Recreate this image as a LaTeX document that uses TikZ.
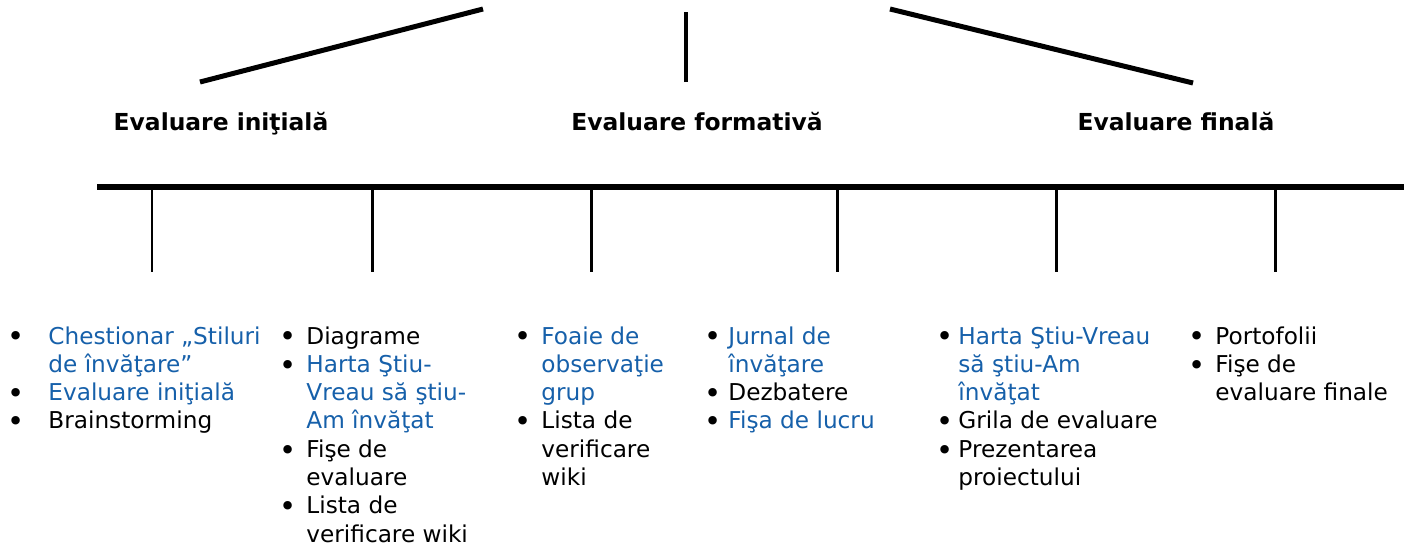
\documentclass[tikz,border=0pt]{standalone}
\usepackage{fontspec}
\setmainfont{DejaVu Sans}
\usetikzlibrary{positioning}

\definecolor{linkblue}{RGB}{22,96,170}
\newcommand{\bl}[1]{\makebox[#1][l]{\raisebox{-1.4pt}{\fontsize{14.5}{14}\selectfont\textbullet}}}
\newcommand{\lk}[1]{\textcolor{linkblue}{#1}}

\begin{document}
\begin{tikzpicture}[x=0.5pt,y=-0.5pt,
  bar/.style={line width=2.5pt},
  axis/.style={line width=3pt},
  tick/.style={line width=1.5pt},
  head/.style={font=\bfseries\fontsize{11.7}{14}\selectfont, inner sep=0pt, anchor=base},
  lst/.style={font=\fontsize{11.6}{14.15}\selectfont, inner sep=0pt, anchor=base west}]
\useasboundingbox (0,0) rectangle (1404,543);

% branches from the title
\coordinate (d1a) at (200,82);  \coordinate (d1b) at (483,9);
\coordinate (d2a) at (686,82);  \coordinate (d2b) at (686,12);
\coordinate (d3a) at (1193,83); \coordinate (d3b) at (890,9);
\draw[bar] (d1a) -- (d1b);
\draw[line width=2pt] (d2a) -- (d2b);
\draw[bar] (d3a) -- (d3b);

\path
(221,130)  node[head] (h1) {Evaluare iniţială}
(697,130)  node[head] (h2) {Evaluare formativă}
(1176,130) node[head] (h3) {Evaluare finală};

% time axis
\coordinate (a0) at (97,187);
\coordinate (a1) at (1404,187);
\draw[axis] (a0) -- (a1);
\coordinate (k0) at (152,189); \coordinate (k0e) at (152,272);
\draw[line width=0.8pt] (k0) -- (k0e);
\foreach \x [count=\i] in {372,591,837,1056,1275} {
  \coordinate (k\i) at (\x,189);
  \coordinate (k\i e) at (\x,272);
  \draw[tick] (k\i) -- (k\i e);
}

% lists
\node[lst] (c1) at (7,344) {\begin{tabular}[t]{@{}l@{}l@{}}
\bl{20.5pt} & \lk{Chestionar „Stiluri}\\
 & \lk{de învăţare”}\\
\bl{20.5pt} & \lk{Evaluare iniţială}\\
\bl{20.5pt} & Brainstorming
\end{tabular}};
\node[lst] (c2) at (279,344) {\begin{tabular}[t]{@{}l@{}l@{}}
\bl{13.5pt} & Diagrame\\
\bl{13.5pt} & \lk{Harta Ştiu-}\\
 & \lk{Vreau să ştiu-}\\
 & \lk{Am învăţat}\\
\bl{13.5pt} & Fişe de\\
 & evaluare\\
\bl{13.5pt} & Lista de\\
 & verificare wiki
\end{tabular}};
\node[lst] (c3) at (514,344) {\begin{tabular}[t]{@{}l@{}l@{}}
\bl{13.5pt} & \lk{Foaie de}\\
 & \lk{observaţie}\\
 & \lk{grup}\\
\bl{13.5pt} & Lista de\\
 & verificare\\
 & wiki
\end{tabular}};
\node[lst] (c4) at (704,344) {\begin{tabular}[t]{@{}l@{}l@{}}
\bl{12pt} & \lk{Jurnal de}\\
 & \lk{învăţare}\\
\bl{12pt} & Dezbatere\\
\bl{12pt} & \lk{Fişa de lucru}
\end{tabular}};
\node[lst] (c5) at (936,344) {\begin{tabular}[t]{@{}l@{}l@{}}
\bl{11pt} & \lk{Harta Ştiu-Vreau}\\
 & \lk{să ştiu-Am}\\
 & \lk{învăţat}\\
\bl{11pt} & Grila de evaluare\\
\bl{11pt} & Prezentarea\\
 & proiectului
\end{tabular}};
\node[lst] (c6) at (1188,344) {\begin{tabular}[t]{@{}l@{}l@{}}
\bl{13.5pt} & Portofolii\\
\bl{13.5pt} & Fişe de\\
 & evaluare finale
\end{tabular}};
\end{tikzpicture}
\end{document}
